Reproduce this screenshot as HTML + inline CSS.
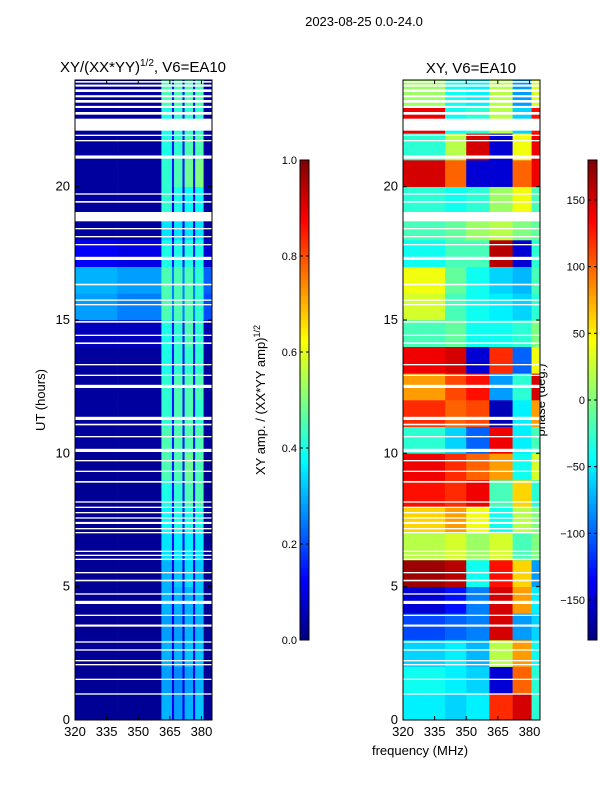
<!DOCTYPE html>
<html><head><meta charset="utf-8">
<style>
html,body{margin:0;padding:0;background:#fff;}
svg{display:block;font-family:"Liberation Sans","DejaVu Sans",sans-serif;}
</style></head>
<body>
<svg id="fig" width="600" height="800" viewBox="0 0 600 800" xmlns="http://www.w3.org/2000/svg">
<text x="364" y="26" font-size="13" text-anchor="middle">2023-08-25 0.0-24.0</text>
<text x="143" y="72" font-size="15" text-anchor="middle">XY/(XX*YY)<tspan font-size="10" dy="-6">1/2</tspan><tspan dy="6">, V6=EA10</tspan></text>
<text x="471" y="73" font-size="15" text-anchor="middle">XY, V6=EA10</text>
<text transform="translate(45,400) rotate(-90)" font-size="13" text-anchor="middle">UT (hours)</text>
<text transform="translate(265,400) rotate(-90)" font-size="13" text-anchor="middle">XY amp. / (XX*YY amp)<tspan font-size="9" dy="-5">1/2</tspan></text>
<text transform="translate(545,400) rotate(-90)" font-size="13" text-anchor="middle">phase (deg.)</text>
<text x="420" y="755" font-size="13" text-anchor="middle">frequency (MHz)</text>
<g id="left"></g>
<g id="right"></g>
<g id="cb1"></g>
<g id="cb2"></g>
</svg>
<script>
// ---- data ----
const hours = [0,1,2,3,4,5,6,7,8,9,10,11,12,13,14,15,16,17,18,19,20,21,22,23];
const ampEdges = [320,340,361,366,367,371,372,376,377,381,385];
const ampValues = [
[0.02,0.02,0.30,0.12,0.28,0.12,0.30,0.12,0.32,0.02],
[0.02,0.02,0.28,0.10,0.26,0.10,0.28,0.10,0.30,0.02],
[0.02,0.02,0.30,0.12,0.30,0.12,0.32,0.12,0.32,0.02],
[0.02,0.02,0.28,0.10,0.28,0.10,0.30,0.10,0.30,0.02],
[0.02,0.02,0.30,0.12,0.30,0.12,0.30,0.12,0.32,0.02],
[0.02,0.02,0.30,0.12,0.32,0.12,0.34,0.12,0.32,0.02],
[0.02,0.02,0.35,0.14,0.36,0.14,0.36,0.14,0.36,0.02],
[0.02,0.02,0.38,0.15,0.40,0.15,0.40,0.15,0.40,0.02],
[0.02,0.02,0.40,0.15,0.42,0.15,0.45,0.15,0.45,0.02],
[0.02,0.02,0.45,0.15,0.45,0.15,0.48,0.15,0.45,0.02],
[0.03,0.03,0.45,0.15,0.45,0.15,0.45,0.15,0.45,0.03],
[0.03,0.03,0.42,0.15,0.45,0.15,0.45,0.15,0.42,0.03],
[0.03,0.03,0.42,0.15,0.45,0.15,0.45,0.15,0.45,0.03],
[0.03,0.03,0.40,0.15,0.42,0.15,0.42,0.15,0.42,0.03],
[0.06,0.06,0.40,0.15,0.42,0.15,0.45,0.15,0.42,0.05],
[0.28,0.25,0.45,0.25,0.45,0.25,0.45,0.25,0.42,0.20],
[0.30,0.28,0.45,0.25,0.45,0.25,0.45,0.25,0.42,0.22],
[0.12,0.10,0.40,0.15,0.40,0.15,0.40,0.15,0.40,0.08],
[0.03,0.03,0.35,0.12,0.35,0.12,0.35,0.12,0.35,0.03],
[0.03,0.03,0.42,0.12,0.40,0.12,0.38,0.12,0.38,0.03],
[0.03,0.03,0.42,0.15,0.45,0.15,0.48,0.15,0.50,0.03],
[0.03,0.03,0.40,0.15,0.42,0.15,0.45,0.15,0.45,0.03],
[0.03,0.03,0.40,0.15,0.42,0.15,0.42,0.15,0.42,0.03],
[0.03,0.03,0.45,0.15,0.45,0.15,0.45,0.15,0.45,0.03]
];
const phaseEdges = [320,340,350,361,372,381,385];
const phaseValues = [
[-50,-60,-50,120,150,-30],
[-40,-50,-60,-150,100,-30],
[-60,-50,-70,20,80,-40],
[-110,-100,-90,150,-80,-60],
[-150,-130,-90,150,80,-50],
[170,160,-40,130,60,-80],
[20,30,10,30,-20,0],
[60,80,40,-40,20,0],
[130,120,140,-20,60,-30],
[140,120,100,80,-40,30],
[-30,-60,-100,140,-50,-20],
[120,100,110,-160,-50,80],
[80,110,130,-80,-30,150],
[140,150,-150,120,-100,40],
[-20,-10,-40,-40,-30,0],
[30,-20,-40,-50,-60,-30],
[40,-10,-40,-60,-70,-20],
[-40,-20,-20,160,-150,-30],
[-20,-10,10,20,0,-10],
[-30,-40,-30,10,40,-20],
[150,100,-150,-150,100,140],
[-30,20,150,-150,40,140],
[140,-40,-30,20,-60,130],
[10,-40,-50,20,-80,30]
];
// flagged (blank) intervals: start hour, duration hours
const flagStart = [0.95,1.5,2.05,2.2,2.6,2.9,3.5,3.9,4.35,4.7,5.2,5.5,6.0,6.15,6.3,7.0,7.15,7.35,7.55,7.75,7.95,8.15,8.9,9.3,9.7,10.05,10.6,11.05,11.25,12.45,12.9,13.3,14.1,14.4,14.9,15.55,15.72,16.3,17.25,17.8,18.1,18.4,18.7,19.4,19.7,21.05,21.7,21.9,22.1,22.7,22.95,23.15,23.35,23.55,23.75,23.9];
const flagDur   = [0.05,0.05,0.05,0.05,0.05,0.05,0.08,0.05,0.12,0.05,0.06,0.05,0.05,0.05,0.05,0.05,0.05,0.08,0.05,0.05,0.05,0.05,0.06,0.05,0.05,0.12,0.05,0.06,0.12,0.12,0.05,0.05,0.06,0.05,0.06,0.05,0.05,0.06,0.12,0.05,0.05,0.05,0.35,0.06,0.05,0.12,0.05,0.05,0.45,0.1,0.08,0.1,0.08,0.1,0.08,0.06];
const hourTicks = [0,5,10,15,20];
const freqTicks = [320,335,350,365,380];
const ampTicks = [0.0,0.2,0.4,0.6,0.8,1.0];
const phaseTicks = [-150,-100,-50,0,50,100,150];

// ---- helpers ----
const NS="http://www.w3.org/2000/svg";
function jet(v){v=Math.max(0,Math.min(1,v));
  const c=x=>Math.round(255*Math.max(0,Math.min(1,x)));
  const r=c(1.5-Math.abs(4*v-3)),g=c(1.5-Math.abs(4*v-2)),b=c(1.5-Math.abs(4*v-1));
  return `rgb(${r},${g},${b})`;}
function mk(parent,tag,attrs){const e=document.createElementNS(NS,tag);for(const k in attrs)e.setAttribute(k,attrs[k]);parent.appendChild(e);return e;}
const yTop=80,yBot=720,hMax=24;
const yS=h=>yBot-(h/hMax)*(yBot-yTop);

function panel(gid,x0,x1,edges,vals,norm,cellName){
  const g=document.getElementById(gid);
  const xS=f=>x0+(f-320)/(385-320)*(x1-x0);
  hours.forEach((h,i)=>{
    for(let j=0;j<edges.length-1;j++){
      const r=mk(g,'rect',{x:xS(edges[j]).toFixed(2),y:yS(h+1).toFixed(2),width:(xS(edges[j+1])-xS(edges[j])+0.3).toFixed(2),height:(yS(h)-yS(h+1)+0.3).toFixed(2),fill:jet(norm(vals[i][j]))});
      
      
    }
  });
  flagStart.forEach((s,i)=>{
    const r=mk(g,'rect',{x:x0,y:yS(s+flagDur[i]).toFixed(2),width:x1-x0,height:(yS(s)-yS(s+flagDur[i])).toFixed(2),fill:'#fff'});
    
    
  });
  const fr=mk(g,'rect',{x:x0,y:yTop,width:x1-x0,height:yBot-yTop,fill:'none',stroke:'#000','stroke-width':1});
  
  
  hourTicks.forEach(h=>{
    mk(g,'line',{x1:x0,x2:x0+4,y1:yS(h),y2:yS(h),stroke:'#000'});
    mk(g,'line',{x1:x1,x2:x1-4,y1:yS(h),y2:yS(h),stroke:'#000'});
    const t=mk(g,'text',{x:x0-5,y:yS(h)+4,'font-size':13,'text-anchor':'end'});t.textContent=h;
    
    
  });
  freqTicks.forEach(f=>{
    mk(g,'line',{x1:xS(f),x2:xS(f),y1:yBot,y2:yBot-4,stroke:'#000'});
    mk(g,'line',{x1:xS(f),x2:xS(f),y1:yTop,y2:yTop+4,stroke:'#000'});
    const t=mk(g,'text',{x:xS(f),y:yBot+16,'font-size':13,'text-anchor':'middle'});t.textContent=f;
    
    
  });
}
panel('left',75,212,ampEdges,ampValues,v=>v,'amp-cell');
panel('right',403,540,phaseEdges,phaseValues,v=>(v+180)/360,'phase-cell');

function colorbar(gid,x,ticks,lo,hi,fmt){
  const g=document.getElementById(gid);const y0=160,y1=640,w=9;
  const N=120;
  for(let i=0;i<N;i++){
    const r=mk(g,'rect',{x:x,y:(y1-(i+1)*(y1-y0)/N).toFixed(2),width:w,height:((y1-y0)/N+0.3).toFixed(2),fill:jet((i+0.5)/N)});
    
    
  }
  mk(g,'rect',{x:x,y:y0,width:w,height:y1-y0,fill:'none',stroke:'#000','stroke-width':1});
  ticks.forEach(v=>{
    const y=y1-(v-lo)/(hi-lo)*(y1-y0);
    mk(g,'line',{x1:x,x2:x+3,y1:y,y2:y,stroke:'#000'});
    mk(g,'line',{x1:x+w,x2:x+w-3,y1:y,y2:y,stroke:'#000'});
    const t=mk(g,'text',{x:x-3,y:y+4,'font-size':11,'text-anchor':'end'});t.textContent=fmt(v);
    
    
  });
}
colorbar('cb1',300,ampTicks,0,1,v=>v.toFixed(1));
colorbar('cb2',588,phaseTicks,-180,180,v=>v<0?'\u2212'+Math.abs(v):String(v));
</script>
</body></html>
